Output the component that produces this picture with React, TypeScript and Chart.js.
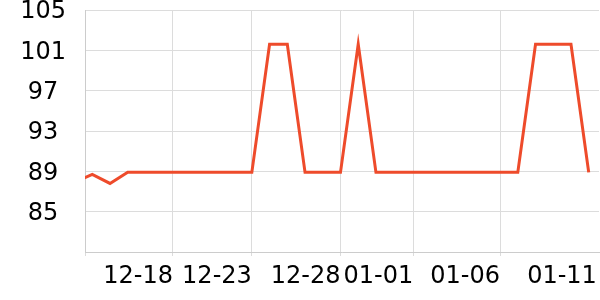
import React, { useEffect, useRef } from 'react';
import { Chart, registerables } from 'chart.js';

Chart.register(...registerables);

const dates = [
  '12-13', '12-14', '12-15', '12-16', '12-17', '12-18', '12-19', '12-20', '12-21', '12-22',
  '12-23', '12-24', '12-25', '12-26', '12-27', '12-28', '12-29', '12-30', '12-31',
  '01-01', '01-02', '01-03', '01-04', '01-05', '01-06', '01-07', '01-08', '01-09', '01-10', '01-11',
];
const values = [
  87.9, 88.7, 87.8, 88.9, 88.9, 88.9, 88.9, 88.9, 88.9, 88.9,
  88.9, 101.6, 101.6, 88.9, 88.9, 88.9, 101.6, 88.9, 88.9,
  88.9, 88.9, 88.9, 88.9, 88.9, 88.9, 88.9, 101.6, 101.6, 101.6, 88.9,
];
const yTickValues = [85, 89, 93, 97, 101, 105];
const xTickLabels = ['12-18', '12-23', '12-28', '01-01', '01-06', '01-11'];
const xTickPositions = [5.55, 10, 15, 19.1, 24, 29.46];
const xMin = 0.59;
const xMax = 29.58;
const yMin = 81;
const yMax = 105;

export default function App() {
  const ref = useRef<HTMLCanvasElement | null>(null);
  useEffect(() => {
    if (!ref.current) return;
    const font = { family: 'DejaVu Sans', size: 24 };
    const chart = new Chart(ref.current, {
      type: 'line',
      data: {
        labels: dates,
        datasets: [
          {
            data: values.map((v, i) => ({ x: i, y: v })),
            borderColor: 'rgb(238,75,43)',
            borderWidth: 3,
            pointRadius: 0,
            tension: 0,
            fill: false,
          },
        ],
      },
      options: {
        animation: false,
        responsive: false,
        layout: { padding: { left: 0, right: 1, top: 10, bottom: 0 } },
        plugins: { legend: { display: false }, tooltip: { enabled: false } },
        scales: {
          x: {
            type: 'linear',
            min: xMin,
            max: xMax,
            afterBuildTicks: (scale: any) => {
              scale.ticks = [{ value: xMin }, ...xTickPositions.map((v) => ({ value: v }))];
            },
            afterFit: (scale: any) => {
              scale.height = 48;
              scale.paddingLeft = 0;
              scale.paddingRight = 0;
            },
            ticks: {
              autoSkip: false,
              maxRotation: 0,
              minRotation: 0,
              align: 'end',
              padding: 6,
              color: '#000',
              font,
              callback: (_v: any, i: number) => (i === 0 ? '' : xTickLabels[i - 1]),
            },
            grid: {
              color: (ctx: any) => (ctx.index === xTickPositions.length ? 'rgba(0,0,0,0)' : '#dcdcdc'),
              tickLength: 4,
              drawTicks: true,
            },
            border: { color: '#cccccc' },
          },
          y: {
            type: 'linear',
            min: yMin,
            max: yMax,
            afterBuildTicks: (scale: any) => {
              scale.ticks = [yMin, ...yTickValues].map((v) => ({ value: v }));
            },
            afterFit: (scale: any) => {
              scale.width = 85;
              scale.paddingTop = 0;
              scale.paddingBottom = 0;
            },
            ticks: {
              crossAlign: 'center',
              padding: 19,
              labelOffset: 2,
              color: '#000',
              font,
              callback: (v: any) => (v === yMin ? '' : String(v)),
            },
            grid: { color: '#dcdcdc', drawTicks: false },
            border: { color: '#cccccc' },
          },
        },
      },
    });
    return () => chart.destroy();
  }, []);
  return (
    <div style={{ position: 'absolute', left: 0, top: 0, width: 600, height: 300, background: '#fff' }}>
      <canvas ref={ref} width={600} height={300} />
    </div>
  );
}
